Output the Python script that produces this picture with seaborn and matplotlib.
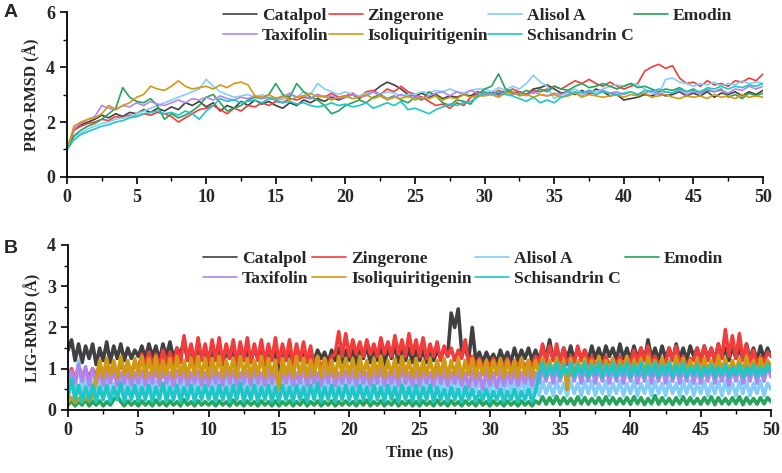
import numpy as np
import pandas as pd
import matplotlib
matplotlib.use("Agg")
import matplotlib.pyplot as plt
from matplotlib.lines import Line2D
import seaborn as sns
from matplotlib.ticker import MultipleLocator

names = ["Catalpol", "Zingerone", "Alisol A", "Emodin", "Taxifolin",
         "Isoliquiritigenin", "Schisandrin C"]
colors = ["#404040", "#f23c3c", "#85cdf9", "#27a35b", "#b384ea", "#d09a12", "#1fc6c6"]

# ---------------- Panel A: protein RMSD (0.5 ns steps) ----------------
pro_catalpol = [1.0, 1.75, 1.9, 2.0, 2.1, 2.25, 2.15, 2.3, 2.2, 2.35,
                2.3, 2.45, 2.35, 2.5, 2.4, 2.55, 2.45, 2.7, 2.6, 2.75,
                2.55, 2.7, 2.4, 2.6, 2.5, 2.75, 2.6, 2.8, 2.65, 2.75,
                2.6, 2.5, 2.7, 2.6, 2.8, 2.7, 2.85, 2.75, 2.9, 2.8,
                2.9, 3.0, 2.85, 3.05, 3.1, 3.3, 3.45, 3.35, 3.2, 3.0,
                2.95, 3.05, 2.9, 3.0, 2.85, 2.95, 2.9, 3.0, 2.95, 3.1,
                3.0, 3.1, 3.0, 3.15, 3.05, 3.1, 3.0, 3.2, 3.25, 3.35,
                3.2, 3.05, 3.1, 3.0, 3.15, 3.0, 3.2, 3.1, 2.95, 3.0,
                2.8, 2.85, 2.9, 3.0, 2.95, 3.05, 2.95, 3.0, 3.1, 2.95,
                3.05, 2.95, 3.1, 2.9, 3.05, 3.0, 3.1, 2.95, 3.1, 3.0, 3.15]
pro_zingerone = [1.0, 1.7, 1.85, 1.95, 2.0, 2.1, 2.05, 2.2, 2.15, 2.25,
                 2.2, 2.3, 2.25, 2.35, 2.3, 2.2, 2.0, 2.15, 2.3, 2.45,
                 2.5, 2.6, 2.45, 2.3, 2.5, 2.4, 2.6, 2.55, 2.7, 2.6,
                 2.75, 2.7, 2.85, 2.8, 2.9, 2.85, 3.0, 2.9, 3.05, 2.9,
                 2.95, 3.05, 2.9, 3.1, 3.15, 3.0, 3.2, 3.1, 3.3, 3.1,
                 3.0, 2.9, 2.75, 2.6, 2.65, 2.5, 2.7, 2.6, 2.9, 3.05,
                 3.1, 3.0, 3.15, 3.05, 3.2, 3.1, 3.0, 3.15, 3.1, 3.2,
                 3.3, 3.2, 3.35, 3.5, 3.4, 3.55, 3.4, 3.3, 3.45, 3.3,
                 3.2, 3.3, 3.4, 3.85, 4.0, 4.1, 3.95, 4.05, 3.6, 3.4,
                 3.45, 3.3, 3.5, 3.35, 3.4, 3.3, 3.5, 3.45, 3.6, 3.5, 3.75]
pro_alisol = [1.0, 1.45, 1.6, 1.75, 1.85, 1.95, 2.0, 2.1, 2.15, 2.2,
              2.3, 2.4, 2.5, 2.6, 2.7, 2.8, 2.9, 3.0, 3.1, 3.2,
              3.55, 3.3, 3.1, 3.0, 2.9, 2.95, 3.0, 2.9, 3.0, 2.85,
              2.9, 2.8, 3.0, 2.9, 3.1, 3.0, 3.4, 3.2, 3.1, 3.0,
              3.1, 3.0, 2.95, 3.05, 3.1, 3.0, 3.1, 3.05, 2.95, 3.0,
              3.0, 3.1, 3.05, 3.15, 3.1, 3.2, 3.1, 3.05, 3.15, 3.2,
              3.2, 3.1, 3.25, 3.15, 3.3, 3.2, 3.4, 3.7, 3.45, 3.3,
              2.85, 3.0, 3.1, 3.2, 3.05, 3.15, 3.1, 3.2, 3.3, 3.35,
              3.3, 3.4, 3.35, 3.2, 3.05, 3.0, 3.55, 3.6, 3.45, 3.4,
              3.3, 3.4, 3.35, 3.45, 3.3, 3.4, 3.35, 3.5, 3.4, 3.45, 3.4]
pro_emodin = [1.0, 1.5, 1.7, 1.85, 1.95, 2.1, 2.3, 2.5, 3.25, 2.9,
              2.75, 2.7, 2.85, 2.6, 2.1, 2.3, 2.15, 2.25, 2.4, 2.6,
              2.9, 3.0, 2.7, 2.4, 2.5, 2.6, 2.8, 2.9, 2.85, 3.0,
              3.4, 3.0, 2.9, 3.4, 3.1, 2.9, 2.8, 2.6, 2.3, 2.4,
              2.6, 2.7, 2.8, 2.7, 2.9, 3.0, 2.85, 2.95, 2.8, 2.7,
              2.9, 2.8, 3.1, 2.95, 2.7, 2.6, 2.8, 2.75, 2.65, 3.0,
              3.2, 3.3, 3.75, 3.2, 3.1, 3.0, 3.15, 3.05, 3.2, 3.1,
              3.3, 3.2, 3.15, 3.3, 3.4, 3.25, 3.3, 3.4, 3.3, 3.2,
              3.3, 3.4, 3.25, 3.3, 3.2, 3.1, 3.2, 3.15, 3.25, 3.1,
              3.2, 3.05, 3.15, 3.1, 3.2, 2.9, 3.0, 2.85, 3.05, 2.95, 3.05]
pro_taxifolin = [1.0, 1.75, 1.95, 2.1, 2.2, 2.6, 2.5, 2.45, 2.6, 2.55,
                 2.7, 2.6, 2.75, 2.65, 2.6, 2.7, 2.8, 2.7, 2.85, 2.8,
                 2.9, 2.8, 2.95, 2.85, 2.8, 2.9, 2.85, 2.95, 2.85, 2.9,
                 2.8, 2.9, 3.05, 2.9, 2.95, 2.85, 3.0, 2.9, 2.95, 2.85,
                 2.9, 3.0, 2.9, 2.95, 3.1, 2.95, 2.85, 2.9, 3.0, 2.9,
                 2.95, 2.85, 2.95, 3.05, 3.1, 2.95, 3.1, 3.0, 3.15, 3.05,
                 3.0, 3.05, 2.95, 3.1, 3.0, 3.05, 2.95, 3.1, 3.0, 2.95,
                 3.05, 3.0, 3.1, 3.05, 2.95, 3.1, 3.0, 3.15, 3.05, 3.1,
                 3.0, 3.1, 3.0, 3.05, 3.15, 3.0, 3.1, 3.05, 3.15, 3.0,
                 3.1, 3.05, 3.2, 3.1, 3.15, 3.05, 3.2, 3.15, 3.3, 3.2, 3.3]
pro_isoliq = [1.0, 1.85, 2.0, 2.1, 2.15, 2.3, 2.6, 2.45, 2.6, 2.7,
              2.9, 3.0, 3.3, 3.2, 3.15, 3.3, 3.5, 3.3, 3.2, 3.25,
              3.3, 3.2, 3.35, 3.25, 3.4, 3.45, 3.35, 2.95, 2.9, 3.0,
              2.85, 2.95, 2.8, 2.9, 2.95, 3.05, 2.9, 2.95, 2.8, 2.9,
              2.95, 2.85, 2.9, 3.0, 2.85, 2.95, 2.8, 2.9, 2.85, 2.95,
              2.8, 2.9, 2.85, 2.95, 2.8, 2.9, 2.85, 3.0, 2.9, 2.95,
              2.95, 3.0, 2.9, 3.05, 3.1, 2.95, 3.0, 2.9, 3.0, 2.95,
              3.0, 2.9, 2.95, 3.05, 2.9, 3.0, 2.95, 2.9, 2.95, 3.0,
              2.9, 3.0, 2.95, 3.05, 2.9, 2.95, 3.0, 2.9, 2.85, 2.95,
              2.9, 2.95, 2.85, 3.0, 2.9, 2.95, 2.85, 3.0, 2.9, 2.95, 2.9]
pro_schisandrin = [1.0, 1.35, 1.55, 1.65, 1.75, 1.85, 1.9, 2.0, 2.05, 2.15,
                   2.2, 2.3, 2.35, 2.4, 2.3, 2.35, 2.25, 2.4, 2.3, 2.1,
                   2.4, 2.6, 2.85, 2.75, 2.8, 2.7, 2.75, 2.8, 2.7, 2.85,
                   2.8, 2.7, 2.75, 2.65, 2.7, 2.6, 2.55, 2.6, 2.7, 2.6,
                   2.65, 2.55, 2.6, 2.7, 2.5, 2.6, 2.7, 2.6, 2.75, 2.45,
                   2.5, 2.4, 2.3, 2.45, 2.55, 2.65, 2.6, 2.7, 2.75, 2.9,
                   3.1, 3.0, 3.1, 3.0, 2.95, 2.85, 2.75, 2.9, 2.7, 2.8,
                   2.7, 2.9, 3.0, 3.1, 3.05, 3.15, 3.0, 3.1, 3.05, 3.0,
                   3.05, 3.1, 3.0, 3.15, 3.1, 3.2, 3.1, 3.05, 3.2, 3.1,
                   3.15, 3.1, 3.25, 3.2, 3.3, 3.2, 3.3, 3.25, 3.35, 3.3, 3.4]

# ---------------- Panel B: ligand RMSD (0.25 ns steps) ----------------
lig_catalpol = [1.45, 1.7, 1.2, 1.6, 1.15, 1.55, 1.25, 1.6, 1.1, 1.5, 1.2, 1.65, 1.15, 1.55, 1.25, 1.6, 1.2, 1.5, 1.25, 1.45,
                1.3, 1.55, 1.25, 1.6, 1.3, 1.55, 1.2, 1.6, 1.3, 1.65, 1.25, 1.5, 1.35, 1.7, 1.2, 1.55, 1.1, 1.45, 1.25, 1.5,
                1.05, 1.45, 1.2, 1.5, 1.1, 1.4, 1.25, 1.5, 1.0, 1.45, 1.2, 1.4, 1.15, 1.5, 1.25, 1.45, 1.1, 1.4, 1.2, 1.45,
                0.95, 1.4, 1.2, 1.45, 1.1, 1.35, 1.2, 1.45, 1.15, 1.4, 1.2, 1.45, 1.25, 1.4, 1.15, 1.45, 1.2, 1.5, 1.15, 1.45,
                1.2, 1.5, 1.1, 1.45, 1.25, 1.55, 1.15, 1.5, 1.2, 1.6, 1.1, 1.5, 1.25, 1.55, 1.15, 1.45, 1.2, 1.5, 1.15, 1.45,
                1.2, 1.45, 1.15, 1.5, 1.2, 1.45, 1.25, 1.5, 1.3, 2.35, 2.0, 2.45, 1.4, 1.45, 1.25, 2.0, 1.2, 1.4, 1.15, 1.4,
                1.2, 1.35, 1.15, 1.45, 1.2, 1.4, 1.15, 1.5, 1.2, 1.45, 1.25, 1.5, 1.2, 1.45, 1.2, 1.55, 1.25, 1.7, 1.2, 1.5,
                1.2, 1.5, 1.25, 1.55, 1.2, 1.5, 1.25, 1.45, 1.2, 1.55, 1.25, 1.5, 1.2, 1.55, 1.3, 1.5, 1.2, 1.6, 1.25, 1.5,
                1.2, 1.55, 1.25, 1.5, 1.2, 1.7, 1.25, 1.5, 1.2, 1.55, 1.25, 1.5, 1.2, 1.6, 1.25, 1.5, 1.2, 1.55, 1.3, 1.5,
                1.2, 1.55, 1.25, 1.5, 1.2, 1.6, 1.25, 1.5, 1.2, 1.55, 1.25, 1.5, 1.2, 1.6, 1.25, 1.5, 1.2, 1.55, 1.25, 1.5, 1.3]
lig_zingerone = [0.8, 1.0, 0.75, 1.05, 0.85, 0.95, 0.8, 1.0, 0.85, 1.05, 0.9, 1.1, 0.85, 1.05, 0.9, 1.1, 0.95, 1.15, 0.9, 1.1,
                 1.0, 1.35, 1.05, 1.4, 1.1, 1.35, 1.05, 1.45, 1.1, 1.4, 1.05, 1.5, 1.15, 1.8, 1.2, 1.6, 1.15, 1.75, 1.2, 1.6,
                 1.15, 1.7, 1.2, 1.75, 1.15, 1.6, 1.25, 1.7, 1.15, 1.65, 1.2, 1.75, 1.15, 1.6, 1.2, 1.7, 1.15, 1.6, 1.2, 1.75,
                 1.15, 1.6, 1.2, 1.7, 1.1, 1.6, 1.2, 1.65, 1.15, 1.55, 1.05, 1.3, 1.0, 1.25, 1.05, 1.3, 1.35, 1.9, 1.3, 1.85,
                 1.3, 1.7, 1.35, 1.65, 1.3, 1.7, 1.35, 1.6, 1.3, 1.75, 1.35, 1.65, 1.3, 1.8, 1.35, 1.7, 1.3, 1.85, 1.35, 1.7,
                 1.3, 1.75, 1.25, 1.6, 1.3, 1.65, 1.2, 1.55, 1.3, 1.5, 1.2, 1.45, 1.25, 1.7, 1.1, 1.3, 1.05, 1.25, 1.0, 1.2,
                 1.05, 1.25, 1.0, 1.2, 1.05, 1.25, 1.0, 1.2, 1.05, 1.25, 1.0, 1.2, 1.05, 1.3, 1.1, 1.6, 1.15, 1.55, 1.2, 1.6,
                 1.15, 1.5, 1.1, 1.3, 1.15, 1.55, 1.2, 1.45, 1.1, 1.3, 1.05, 1.25, 1.1, 1.3, 1.05, 1.25, 1.1, 1.3, 1.05, 1.3,
                 1.1, 1.45, 1.15, 1.5, 1.2, 1.55, 1.1, 1.3, 1.05, 1.25, 1.15, 1.5, 1.2, 1.55, 1.1, 1.3, 1.05, 1.25, 1.2, 1.5,
                 1.15, 1.55, 1.2, 1.5, 1.15, 1.6, 1.25, 1.95, 1.3, 1.8, 1.25, 1.85, 1.2, 1.6, 1.15, 1.45, 1.1, 1.3, 1.15, 1.4, 1.3]
lig_alisol = [0.4, 0.7, 0.5, 1.2, 0.45, 0.75, 0.4, 0.7, 0.45, 0.75, 0.4, 0.7, 0.45, 0.65, 0.4, 0.7, 0.45, 0.75, 0.4, 0.7,
              0.45, 0.7, 0.4, 0.75, 0.45, 0.7, 0.4, 0.65, 0.45, 0.75, 0.4, 0.7, 0.45, 0.8, 0.4, 0.7, 0.45, 0.75, 0.4, 0.7,
              0.4, 0.75, 0.45, 0.7, 0.4, 0.8, 0.45, 0.7, 0.4, 0.75, 0.45, 0.7, 0.4, 0.75, 0.45, 0.7, 0.4, 0.8, 0.45, 0.7,
              0.45, 0.75, 0.4, 0.7, 0.45, 0.75, 0.4, 0.7, 0.45, 0.8, 0.4, 0.7, 0.45, 0.75, 0.4, 0.7, 0.45, 0.75, 0.4, 0.7,
              0.4, 0.75, 0.45, 0.8, 0.4, 0.7, 0.45, 0.75, 0.4, 0.7, 0.45, 0.75, 0.4, 0.8, 0.45, 0.7, 0.4, 0.75, 0.45, 0.7,
              0.45, 0.75, 0.4, 0.7, 0.45, 0.75, 0.4, 0.8, 0.45, 0.7, 0.4, 0.75, 0.45, 0.7, 0.4, 0.75, 0.45, 0.7, 0.4, 0.75,
              0.4, 0.7, 0.45, 0.75, 0.4, 0.7, 0.45, 0.75, 0.4, 0.7, 0.45, 0.75, 0.4, 0.7, 0.35, 0.7, 0.4, 0.65, 0.35, 0.7,
              0.4, 0.65, 0.35, 0.7, 0.4, 0.65, 0.35, 0.7, 0.4, 0.7, 0.35, 0.65, 0.4, 0.7, 0.35, 0.65, 0.4, 0.7, 0.35, 0.65,
              0.4, 0.7, 0.35, 0.65, 0.4, 0.7, 0.35, 0.7, 0.4, 0.65, 0.35, 0.7, 0.4, 0.65, 0.35, 0.7, 0.4, 0.7, 0.35, 0.65,
              0.4, 0.7, 0.35, 0.65, 0.4, 0.7, 0.35, 0.7, 0.4, 0.65, 0.35, 0.7, 0.4, 0.7, 0.35, 0.65, 0.4, 0.7, 0.35, 0.65, 0.5]
lig_emodin = [0.12, 0.22, 0.1, 0.2, 0.12, 0.25, 0.1, 0.2, 0.12, 0.22, 0.1, 0.2, 0.12, 0.25, 0.35, 0.2, 0.1, 0.22, 0.12, 0.2,
              0.1, 0.22, 0.12, 0.2, 0.1, 0.24, 0.12, 0.2, 0.1, 0.22, 0.12, 0.2, 0.1, 0.25, 0.12, 0.2, 0.1, 0.22, 0.12, 0.2,
              0.12, 0.2, 0.1, 0.22, 0.12, 0.2, 0.1, 0.24, 0.12, 0.2, 0.1, 0.22, 0.12, 0.2, 0.1, 0.22, 0.12, 0.2, 0.1, 0.22,
              0.1, 0.2, 0.12, 0.22, 0.1, 0.2, 0.12, 0.24, 0.1, 0.2, 0.12, 0.22, 0.1, 0.2, 0.12, 0.22, 0.1, 0.2, 0.12, 0.22,
              0.12, 0.2, 0.1, 0.22, 0.12, 0.24, 0.1, 0.2, 0.12, 0.22, 0.1, 0.2, 0.12, 0.24, 0.1, 0.2, 0.12, 0.22, 0.1, 0.2,
              0.1, 0.22, 0.12, 0.2, 0.1, 0.24, 0.12, 0.2, 0.1, 0.22, 0.12, 0.2, 0.1, 0.22, 0.12, 0.2, 0.1, 0.24, 0.12, 0.2,
              0.1, 0.22, 0.12, 0.2, 0.1, 0.22, 0.12, 0.2, 0.1, 0.22, 0.12, 0.2, 0.1, 0.22, 0.15, 0.32, 0.14, 0.3, 0.15, 0.33,
              0.14, 0.3, 0.15, 0.28, 0.13, 0.32, 0.15, 0.3, 0.14, 0.28, 0.15, 0.3, 0.13, 0.32, 0.15, 0.3, 0.14, 0.28, 0.15, 0.3,
              0.14, 0.32, 0.15, 0.3, 0.13, 0.28, 0.15, 0.35, 0.14, 0.3, 0.15, 0.28, 0.13, 0.3, 0.15, 0.32, 0.14, 0.3, 0.15, 0.28,
              0.14, 0.3, 0.15, 0.32, 0.13, 0.3, 0.15, 0.28, 0.14, 0.3, 0.15, 0.32, 0.13, 0.3, 0.15, 0.28, 0.14, 0.3, 0.15, 0.3, 0.2]
lig_taxifolin = [0.7, 0.95, 0.65, 1.1, 0.7, 1.05, 0.6, 1.0, 0.65, 0.95, 0.6, 0.9, 0.65, 0.95, 0.6, 0.9, 0.65, 0.95, 0.6, 0.9,
                 0.65, 0.95, 0.6, 0.9, 0.65, 1.0, 0.6, 0.95, 0.65, 0.9, 0.6, 0.95, 0.65, 1.0, 0.6, 0.9, 0.65, 0.95, 0.6, 0.9,
                 0.6, 0.95, 0.65, 0.9, 0.6, 1.0, 0.65, 0.95, 0.6, 0.9, 0.65, 0.95, 0.6, 1.0, 0.65, 0.9, 0.6, 0.95, 0.65, 0.9,
                 0.6, 0.9, 0.65, 0.95, 0.6, 0.9, 0.65, 1.0, 0.6, 0.95, 0.65, 0.9, 0.6, 0.95, 0.65, 1.0, 0.6, 0.9, 0.65, 0.95,
                 0.65, 0.95, 0.6, 1.0, 0.65, 0.9, 0.6, 0.95, 0.65, 1.0, 0.6, 0.9, 0.65, 0.95, 0.6, 1.0, 0.65, 0.9, 0.6, 0.95,
                 0.6, 0.95, 0.65, 0.9, 0.6, 1.0, 0.65, 0.95, 0.6, 0.9, 0.65, 0.95, 0.6, 0.9, 0.55, 0.95, 0.6, 0.9, 0.5, 0.95,
                 0.6, 0.9, 0.55, 0.95, 0.6, 0.9, 0.65, 0.95, 0.6, 0.9, 0.65, 0.95, 0.6, 0.9, 0.65, 1.0, 0.7, 1.05, 0.65, 1.0,
                 0.7, 1.05, 0.65, 1.0, 0.7, 1.05, 0.65, 1.0, 0.7, 1.05, 0.65, 1.0, 0.7, 1.05, 0.65, 1.0, 0.7, 1.05, 0.65, 1.0,
                 0.7, 1.05, 0.65, 1.0, 0.7, 1.05, 0.65, 1.0, 0.7, 1.05, 0.65, 1.0, 0.7, 1.05, 0.65, 1.0, 0.7, 1.05, 0.65, 1.0,
                 0.65, 1.0, 0.7, 1.05, 0.65, 1.0, 0.7, 1.05, 0.6, 1.0, 0.7, 1.05, 0.65, 1.0, 0.7, 1.05, 0.65, 1.0, 0.7, 1.05, 0.8]
lig_isoliq = [0.2, 0.3, 0.18, 0.28, 0.2, 0.3, 0.22, 0.3, 0.75, 1.2, 0.8, 1.25, 0.85, 1.2, 0.8, 1.3, 0.85, 1.2, 0.8, 1.25,
              0.85, 1.3, 0.8, 1.25, 0.85, 1.3, 0.8, 1.2, 0.85, 1.25, 0.8, 1.3, 0.85, 1.2, 0.8, 1.25, 0.85, 1.3, 0.8, 1.25,
              0.8, 1.25, 0.85, 1.3, 0.8, 1.2, 0.85, 1.25, 0.8, 1.3, 0.85, 1.25, 0.8, 1.2, 0.85, 1.3, 0.8, 1.25, 0.85, 1.2,
              0.5, 1.25, 0.85, 1.2, 0.8, 1.3, 0.85, 1.25, 0.8, 1.2, 0.85, 1.3, 0.8, 1.25, 0.85, 1.2, 0.8, 1.3, 0.85, 1.25,
              0.85, 1.25, 0.8, 1.3, 0.85, 1.2, 0.8, 1.25, 0.85, 1.3, 0.8, 1.2, 0.85, 1.25, 0.8, 1.3, 0.85, 1.2, 0.8, 1.25,
              0.8, 1.2, 0.85, 1.25, 0.8, 1.2, 0.85, 1.25, 0.8, 1.2, 0.85, 1.25, 0.8, 1.2, 0.85, 1.25, 0.8, 1.2, 0.85, 1.2,
              0.8, 1.2, 0.85, 1.25, 0.8, 1.2, 0.85, 1.2, 0.8, 1.25, 0.85, 1.2, 0.8, 1.2, 0.9, 1.25, 0.95, 1.2, 0.9, 1.25,
              0.95, 1.2, 0.5, 1.25, 0.9, 1.2, 0.95, 1.25, 0.9, 1.2, 0.95, 1.3, 0.9, 1.2, 0.95, 1.25, 0.9, 1.2, 0.95, 1.3,
              0.9, 1.2, 0.95, 1.25, 0.9, 1.3, 0.95, 1.2, 0.9, 1.25, 0.95, 1.2, 0.9, 1.3, 0.95, 1.25, 0.9, 1.2, 0.95, 1.25,
              0.9, 1.25, 0.95, 1.2, 0.9, 1.3, 0.95, 1.25, 0.9, 1.2, 0.95, 1.25, 0.9, 1.3, 0.95, 1.2, 0.9, 1.25, 0.95, 1.2, 1.05]
lig_schisandrin = [0.3, 0.75, 0.25, 0.6, 0.2, 0.55, 0.25, 0.6, 0.2, 0.55, 0.25, 0.6, 0.2, 0.55, 0.25, 0.65, 0.2, 0.55, 0.25, 0.6,
                   0.2, 0.55, 0.25, 0.6, 0.2, 0.55, 0.25, 0.65, 0.2, 0.55, 0.25, 0.6, 0.2, 0.55, 0.25, 0.6, 0.2, 0.55, 0.25, 0.6,
                   0.25, 0.55, 0.2, 0.6, 0.25, 0.55, 0.2, 0.6, 0.25, 0.65, 0.2, 0.55, 0.25, 0.6, 0.2, 0.55, 0.25, 0.6, 0.2, 0.55,
                   0.2, 0.6, 0.25, 0.55, 0.2, 0.6, 0.25, 0.55, 0.2, 0.6, 0.25, 0.65, 0.2, 0.55, 0.25, 0.6, 0.2, 0.55, 0.25, 0.6,
                   0.25, 0.55, 0.2, 0.6, 0.25, 0.55, 0.2, 0.6, 0.25, 0.55, 0.2, 0.6, 0.25, 0.55, 0.2, 0.6, 0.25, 0.55, 0.2, 0.6,
                   0.2, 0.55, 0.25, 0.6, 0.2, 0.55, 0.25, 0.5, 0.2, 0.55, 0.25, 0.5, 0.2, 0.55, 0.25, 0.5, 0.2, 0.45, 0.25, 0.5,
                   0.2, 0.45, 0.25, 0.5, 0.2, 0.45, 0.25, 0.5, 0.2, 0.45, 0.25, 0.5, 0.2, 0.45, 0.85, 1.15, 0.8, 1.1, 0.85, 1.15,
                   0.8, 1.1, 0.85, 1.15, 0.8, 1.1, 0.85, 1.15, 0.8, 1.1, 0.85, 1.15, 0.8, 1.1, 0.85, 1.15, 0.8, 1.1, 0.85, 1.15,
                   0.8, 1.1, 0.85, 1.15, 0.8, 1.1, 0.85, 1.15, 0.8, 1.1, 0.85, 1.15, 0.8, 1.1, 0.85, 1.15, 0.8, 1.05, 0.85, 1.1,
                   0.8, 1.05, 0.85, 1.1, 0.8, 1.05, 0.85, 1.1, 0.8, 1.05, 0.85, 1.1, 0.8, 1.05, 0.85, 1.1, 0.8, 1.05, 0.85, 1.1, 0.95]

pro_series = [pro_catalpol, pro_zingerone, pro_alisol, pro_emodin, pro_taxifolin, pro_isoliq, pro_schisandrin]
lig_series = [lig_catalpol, lig_zingerone, lig_alisol, lig_emodin, lig_taxifolin, lig_isoliq, lig_schisandrin]

sns.set_style("ticks")
plt.rcParams['font.family'] = ['Liberation Serif', 'DejaVu Serif']
plt.rcParams['font.weight'] = 'bold'
plt.rcParams['axes.labelweight'] = 'bold'
plt.rcParams['axes.linewidth'] = 1.3
plt.rcParams['axes.edgecolor'] = 'black'

fig = plt.figure(figsize=(7.82, 4.73), dpi=100)
axA = fig.add_axes([0.0857, 0.6258, 0.8900, 0.3488])
axB = fig.add_axes([0.0870, 0.1332, 0.8990, 0.3489])


def draw(ax, series, lw):
    for name, vals, col in zip(names, series, colors):
        df = pd.DataFrame({"t": np.linspace(0, 50, len(vals)), "v": vals})
        sns.lineplot(data=df, x="t", y="v", ax=ax, color=col, linewidth=lw,
                     errorbar=None, legend=False)


def style(ax, ymax, ymaj, ymin_):
    ax.set_xlim(0, 50)
    ax.set_ylim(0, ymax)
    ax.xaxis.set_major_locator(MultipleLocator(5))
    ax.xaxis.set_minor_locator(MultipleLocator(2.5))
    ax.yaxis.set_major_locator(MultipleLocator(ymaj))
    ax.yaxis.set_minor_locator(MultipleLocator(ymin_))
    ax.tick_params(which='major', direction='out', length=5, width=1.2, labelsize=13, color='black')
    ax.tick_params(which='minor', direction='out', length=3, width=1.0, color='black')
    for lab in ax.get_xticklabels() + ax.get_yticklabels():
        lab.set_fontweight('bold')
    sns.despine(ax=ax)


def legend(ax, x, y, colsp):
    order = [0, 4, 1, 5, 2, 6, 3]
    handles = [Line2D([0, 1], [0, 0], color=colors[i], linewidth=1.2) for i in order]
    leg = ax.legend(handles, [names[i] for i in order], ncol=4,
                    loc='upper left', bbox_to_anchor=(x, y), bbox_transform=fig.transFigure,
                    frameon=False, handlelength=1.95, handletextpad=0.28, columnspacing=colsp,
                    labelspacing=0.22, borderpad=0, borderaxespad=0,
                    prop={'family': 'Liberation Serif', 'weight': 'bold', 'size': 12.6})
    for h in leg.get_lines():
        h.set_linewidth(1.2)


draw(axA, pro_series, 1.2)
style(axA, 6, 2, 1)
axA.set_xlabel("")
axA.set_ylabel("PRO-RMSD (Å)", fontsize=11.5, fontweight='bold')
legend(axA, 0.285, 0.983, 0.0)

draw(axB, lig_series, 2.6)
style(axB, 4, 1, 0.5)
axB.set_xlabel("Time (ns)", fontsize=12, fontweight='bold')
axB.set_ylabel("LIG-RMSD (Å)", fontsize=11.5, fontweight='bold')
legend(axB, 0.2596, 0.470, 0.2)

fig.text(0.005, 0.992, "A", family='Liberation Sans', weight='bold', fontsize=14, va='top', ha='left')
fig.text(0.005, 0.492, "B", family='Liberation Sans', weight='bold', fontsize=14, va='top', ha='left')

fig.savefig("out.png", dpi=100)
